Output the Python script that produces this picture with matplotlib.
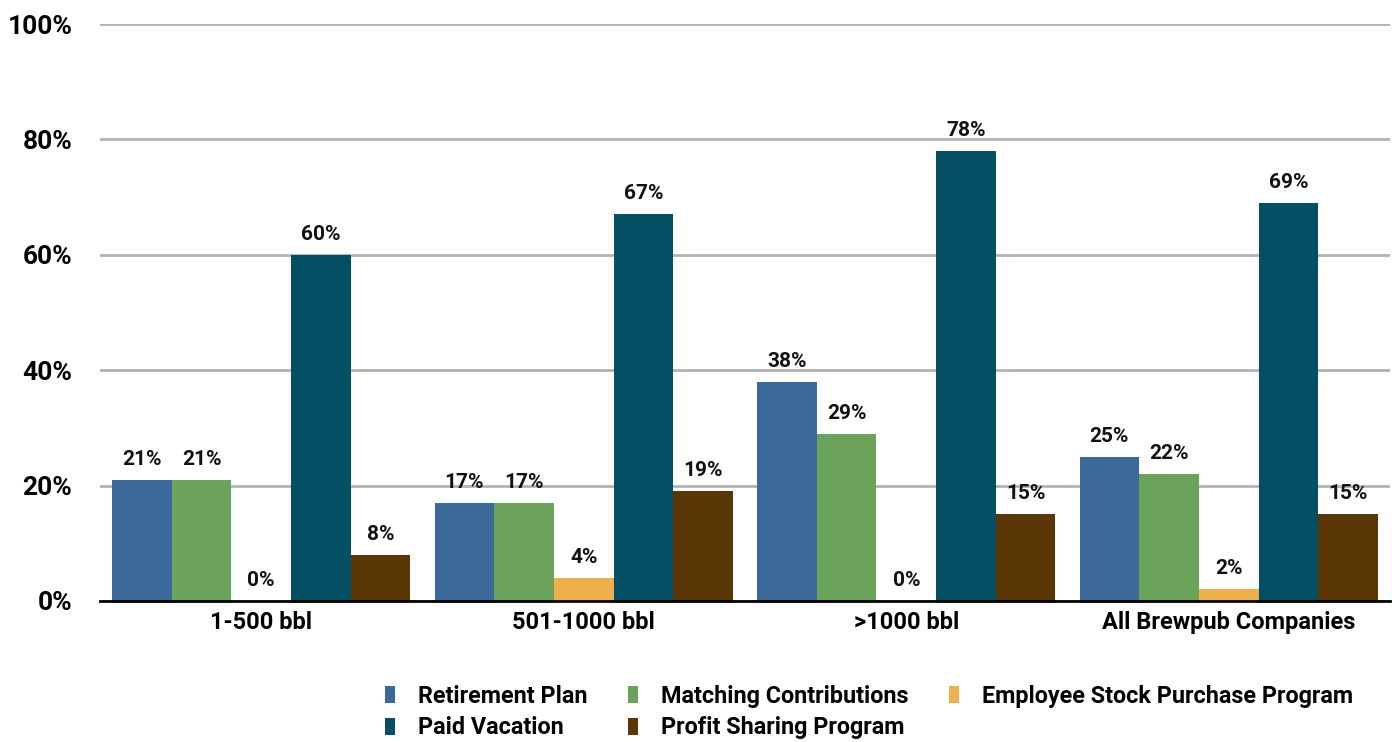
import matplotlib
matplotlib.use("Agg")
import matplotlib.pyplot as plt
import numpy as np
from matplotlib.patches import Patch

categories = ["1-500 bbl", "501-1000 bbl", ">1000 bbl", "All Brewpub Companies"]
series_names = ["Retirement Plan", "Matching Contributions", "Employee Stock Purchase Program",
                "Paid Vacation", "Profit Sharing Program"]
retirement = [21, 17, 38, 25]
matching = [21, 17, 29, 22]
stock_purchase = [0, 4, 0, 2]
paid_vacation = [60, 67, 78, 69]
profit_sharing = [8, 19, 15, 15]
yticks = [0, 20, 40, 60, 80, 100]

series_values = [retirement, matching, stock_purchase, paid_vacation, profit_sharing]
colors = ["#3B6A9A", "#6CA35A", "#EEB04C", "#054F64", "#5A3705"]

label_font = ["Roboto", "DejaVu Sans"]

fig = plt.figure(figsize=(13.92, 7.42), dpi=100)
ax = fig.add_axes([100 / 1392, 1 - 601 / 742, 1290 / 1392, 577 / 742])

x = np.arange(len(categories))
width = 0.185
for i, (vals, col) in enumerate(zip(series_values, colors)):
    pos = x + (i - 2) * width
    ax.bar(pos, vals, width=width, color=col, zorder=3)
    for px, v in zip(pos, vals):
        ax.annotate(f"{v}%", (px, v), xytext=(0, 8), textcoords="offset points",
                    ha="center", va="bottom", fontsize=15, fontweight="bold",
                    family=label_font, color="#111111")

ax.set_xlim(-0.5, len(categories) - 0.5)
ax.set_ylim(0, 100)
ax.set_yticks(yticks)
ax.set_yticklabels([f"{t}%" for t in yticks], fontsize=19, fontweight="bold", family=label_font)
ax.set_xticks(x)
ax.set_xticklabels(categories, fontsize=17, fontweight="bold", family=label_font)
ax.tick_params(axis="y", length=0, pad=20)
ax.tick_params(axis="x", length=0, pad=7)
ax.yaxis.grid(True, color="#b3b3b3", linewidth=2, zorder=0)
for side in ["left", "right", "top"]:
    ax.spines[side].set_visible(False)
ax.spines["bottom"].set_linewidth(2)
ax.spines["bottom"].set_color("black")
ax.spines["bottom"].set_zorder(4)

# legend filled row by row: three columns, two rows
order = [0, 3, 1, 4, 2]
handles = [Patch(facecolor=colors[k], label=series_names[k]) for k in order]
leg = fig.legend(handles=handles, loc="center", bbox_to_anchor=(0.6245, 0.0405), ncol=3,
                 frameon=False, handlelength=0.4, handleheight=0.75, handletextpad=1.0,
                 columnspacing=1.75, labelspacing=0.38, borderaxespad=0, borderpad=0,
                 prop={"family": label_font, "weight": "bold", "size": 16.8})

fig.savefig("out.png", dpi=100)
